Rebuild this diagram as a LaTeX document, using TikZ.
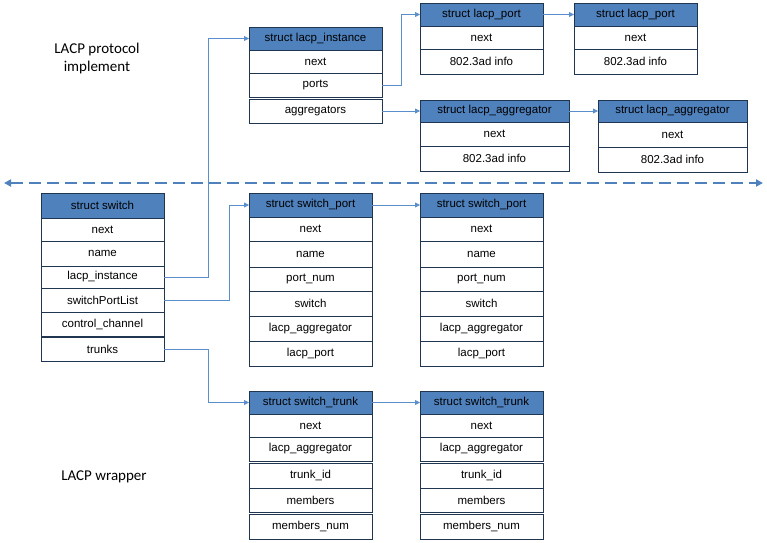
\documentclass[tikz,border=0pt]{standalone}
\usepackage{fontspec}
\setmainfont{Liberation Sans}
\newfontfamily\calfont{Carlito}
\usetikzlibrary{arrows.meta}
\definecolor{hdrblue}{HTML}{4F81BD}
\definecolor{edgenavy}{HTML}{1F3550}
\definecolor{linkblue}{HTML}{5B8FCB}
\begin{document}
\begin{tikzpicture}[x=1pt,y=-1pt,
  cellbase/.style={draw=edgenavy, line width=0.9pt, anchor=north west, inner sep=0pt, outer sep=0pt,
    font=\fontsize{11.5}{13}\selectfont, text=black},
  hdr/.style={cellbase, fill=hdrblue},
  fld/.style={cellbase, fill=white},
  link/.style={draw=linkblue, line width=0.8pt, -{Triangle[length=5pt,width=5pt]}},
  divider/.style={draw=hdrblue, line width=1.8pt, dash pattern=on 12pt off 6pt,
    {Triangle[length=7pt,width=7pt]}-{Triangle[length=7pt,width=7pt]}},
  title/.style={font=\calfont\fontsize{15}{18}\selectfont, align=center, text=black}]
\useasboundingbox (0,0) rectangle (767,542);

% titles
\node[title] (t1) at (97,58) {LACP protocol\\implement};
\node[title] (t2) at (104,477) {LACP wrapper};

% divider
\coordinate (dl) at (4,183);
\coordinate (dr) at (763,183);
\draw[divider] (dl) -- (dr);

% struct lacp_instance
\node[hdr, minimum width=133, minimum height=23] (li-h) at (249,27) {struct lacp\_instance};
\node[fld, minimum width=133, minimum height=23] (li-next) at (249,50) {next};
\node[fld, minimum width=133, minimum height=24] (li-ports) at (249,73) {ports};
\node[fld, minimum width=133, minimum height=24] (li-agg) at (249,99) {aggregators};

% lacp_port 1
\node[hdr, minimum width=123, minimum height=23] (lp1-h) at (420,3) {struct lacp\_port};
\node[fld, minimum width=123, minimum height=23] (lp1-next) at (420,26) {next};
\node[fld, minimum width=123, minimum height=25] (lp1-info) at (420,49) {802.3ad info};
% lacp_port 2
\node[hdr, minimum width=123, minimum height=23] (lp2-h) at (574,3) {struct lacp\_port};
\node[fld, minimum width=123, minimum height=23] (lp2-next) at (574,26) {next};
\node[fld, minimum width=123, minimum height=25] (lp2-info) at (574,49) {802.3ad info};

% lacp_aggregator 1
\node[hdr, minimum width=149, minimum height=22] (ag1-h) at (420,100) {struct lacp\_aggregator};
\node[fld, minimum width=149, minimum height=24] (ag1-next) at (420,122) {next};
\node[fld, minimum width=149, minimum height=25] (ag1-info) at (420,146) {802.3ad info};
% lacp_aggregator 2
\node[hdr, minimum width=149, minimum height=22] (ag2-h) at (598,100) {struct lacp\_aggregator};
\node[fld, minimum width=149, minimum height=25] (ag2-next) at (598,122) {next};
\node[fld, minimum width=149, minimum height=25] (ag2-info) at (598,147) {802.3ad info};

% struct switch
\node[hdr, minimum width=123, minimum height=25] (sw-h) at (41,193) {struct switch};
\node[fld, minimum width=123, minimum height=23] (sw-next) at (41,218) {next};
\node[fld, minimum width=123, minimum height=25] (sw-name) at (41,241) {name};
\node[fld, minimum width=123, minimum height=22] (sw-li) at (41,266) {lacp\_instance};
\node[fld, minimum width=123, minimum height=24] (sw-spl) at (41,288) {switchPortList};
\node[fld, minimum width=123, minimum height=24] (sw-cc) at (41,312) {control\_channel};
\node[fld, minimum width=123, minimum height=24] (sw-tr) at (41,337) {trunks};

% switch_port 1
\node[hdr, minimum width=123, minimum height=24] (sp1-h) at (249,193) {struct switch\_port};
\node[fld, minimum width=123, minimum height=24] (sp1-next) at (249,217) {next};
\node[fld, minimum width=123, minimum height=26] (sp1-name) at (249,241) {name};
\node[fld, minimum width=123, minimum height=24] (sp1-pn) at (249,267) {port\_num};
\node[fld, minimum width=123, minimum height=25] (sp1-sw) at (249,291) {switch};
\node[fld, minimum width=123, minimum height=25] (sp1-la) at (249,316) {lacp\_aggregator};
\node[fld, minimum width=123, minimum height=25] (sp1-lp) at (249,341) {lacp\_port};
% switch_port 2
\node[hdr, minimum width=123, minimum height=24] (sp2-h) at (420,193) {struct switch\_port};
\node[fld, minimum width=123, minimum height=24] (sp2-next) at (420,217) {next};
\node[fld, minimum width=123, minimum height=26] (sp2-name) at (420,241) {name};
\node[fld, minimum width=123, minimum height=24] (sp2-pn) at (420,267) {port\_num};
\node[fld, minimum width=123, minimum height=25] (sp2-sw) at (420,291) {switch};
\node[fld, minimum width=123, minimum height=25] (sp2-la) at (420,316) {lacp\_aggregator};
\node[fld, minimum width=123, minimum height=25] (sp2-lp) at (420,341) {lacp\_port};

% switch_trunk 1
\node[hdr, minimum width=123, minimum height=23] (st1-h) at (249,391) {struct switch\_trunk};
\node[fld, minimum width=123, minimum height=23] (st1-next) at (249,414) {next};
\node[fld, minimum width=123, minimum height=24] (st1-la) at (249,437) {lacp\_aggregator};
\node[fld, minimum width=123, minimum height=25] (st1-id) at (249,463) {trunk\_id};
\node[fld, minimum width=123, minimum height=24] (st1-m) at (249,488) {members};
\node[fld, minimum width=123, minimum height=25] (st1-mn) at (249,514) {members\_num};
% switch_trunk 2
\node[hdr, minimum width=123, minimum height=23] (st2-h) at (420,391) {struct switch\_trunk};
\node[fld, minimum width=123, minimum height=23] (st2-next) at (420,414) {next};
\node[fld, minimum width=123, minimum height=24] (st2-la) at (420,437) {lacp\_aggregator};
\node[fld, minimum width=123, minimum height=25] (st2-id) at (420,463) {trunk\_id};
\node[fld, minimum width=123, minimum height=24] (st2-m) at (420,488) {members};
\node[fld, minimum width=123, minimum height=25] (st2-mn) at (420,514) {members\_num};

% connectors
\draw[link] (sw-li.east) -- ++(44,0) |- (li-h.west);
\draw[link] (sw-spl.east) -- ++(65,0) |- (sp1-h.west);
\draw[link] (sw-tr.east) -- ++(44,0) |- (st1-h.west);
\draw[link] (li-ports.east) -- ++(19,0) |- (lp1-h.west);
\draw[link] (li-agg.east) -- (ag1-h.west);
\draw[link] (lp1-h.east) -- (lp2-h.west);
\draw[link] (ag1-h.east) -- (ag2-h.west);
\draw[link] (sp1-h.east) -- (sp2-h.west);
\draw[link] (st1-h.east) -- (st2-h.west);
\end{tikzpicture}
\end{document}
